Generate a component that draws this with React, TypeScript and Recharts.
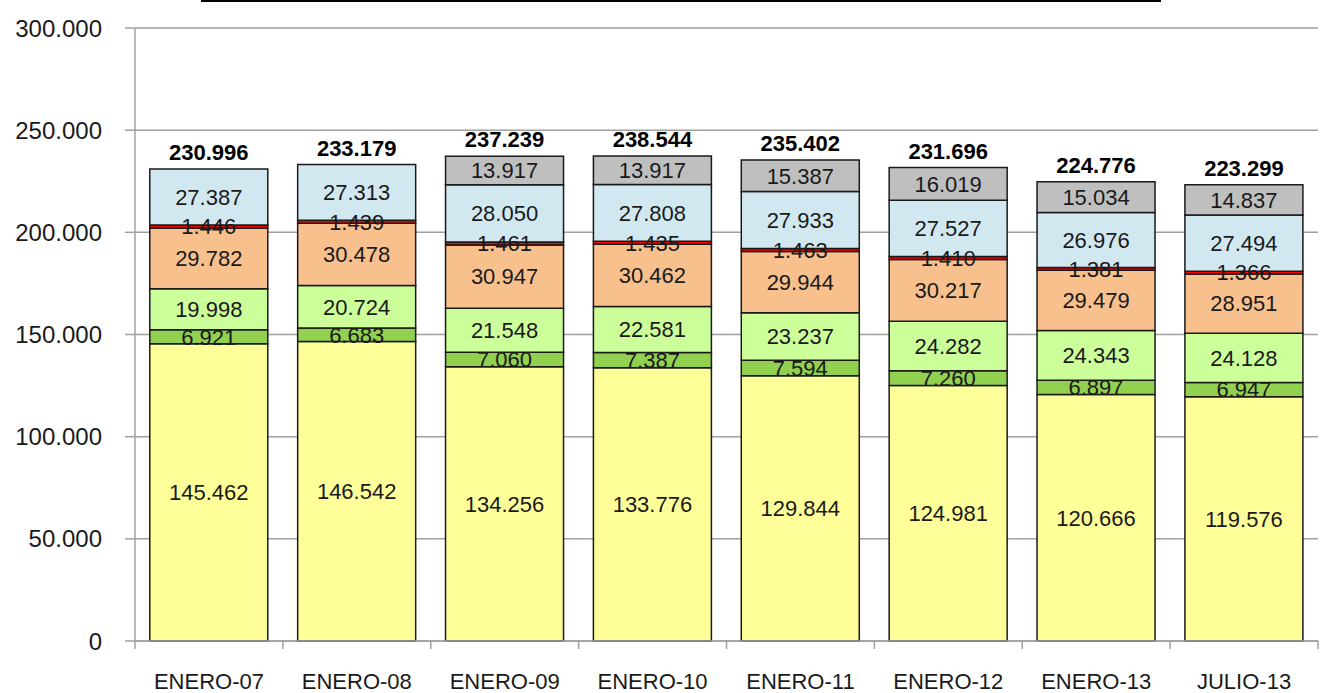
import React from 'react';
import { BarChart, Bar, XAxis, YAxis, CartesianGrid, LabelList } from 'recharts';

const categories = ['ENERO-07', 'ENERO-08', 'ENERO-09', 'ENERO-10', 'ENERO-11', 'ENERO-12', 'ENERO-13', 'JULIO-13'];
const base = [145462, 146542, 134256, 133776, 129844, 124981, 120666, 119576];
const darkGreen = [6921, 6683, 7060, 7387, 7594, 7260, 6897, 6947];
const lightGreen = [19998, 20724, 21548, 22581, 23237, 24282, 24343, 24128];
const orange = [29782, 30478, 30947, 30462, 29944, 30217, 29479, 28951];
const red = [1446, 1439, 1461, 1435, 1463, 1410, 1381, 1366];
const blue = [27387, 27313, 28050, 27808, 27933, 27527, 26976, 27494];
const grey = [0, 0, 13917, 13917, 15387, 16019, 15034, 14837];
const totals = [230996, 233179, 237239, 238544, 235402, 231696, 224776, 223299];
const yTicks = [0, 50000, 100000, 150000, 200000, 250000, 300000];

const data = categories.map((name, i) => ({
  name,
  base: base[i],
  darkGreen: darkGreen[i],
  lightGreen: lightGreen[i],
  orange: orange[i],
  red: red[i],
  blue: blue[i],
  grey: grey[i],
  total: totals[i],
}));

const FONT = '"Liberation Sans", Arial, sans-serif';
const TEXT = '#1a1a1a';
const AXIS = '#a0a0a0';

const fmt = (v: any) => {
  const n = Number(v);
  if (!n) return '';
  return String(n).replace(/\B(?=(\d{3})+(?!\d))/g, '.');
};
const fmtAxis = (v: number) => (v === 0 ? '0' : fmt(v));

const W = 1322;
const H = 693;
const LEFT = 135;
const RIGHT = 4;
const BAND = (W - LEFT - RIGHT) / categories.length;
const X_MARGIN = 32;

function XTick(props: any) {
  const { x, y, payload, index } = props;
  const axisY = y - X_MARGIN;
  return (
    <g>
      <line x1={x - BAND / 2} x2={x - BAND / 2} y1={axisY} y2={axisY + 8} stroke={AXIS} strokeWidth={1.5} />
      {index === categories.length - 1 && (
        <line x1={x + BAND / 2} x2={x + BAND / 2} y1={axisY} y2={axisY + 8} stroke={AXIS} strokeWidth={1.5} />
      )}
      <text x={x} y={y} dy="0.71em" textAnchor="middle" fill={TEXT} fontSize={22} fontFamily={FONT}>
        {payload.value}
      </text>
    </g>
  );
}

// bold total above the stack; on the blue bar only where there is no grey segment
const totalLabel = (onGrey: boolean) => (props: any) => {
  const { x, y, width, index, value } = props;
  if (!onGrey && grey[index] > 0) return null;
  return (
    <text
      key={`t-${index}`}
      x={Number(x) + Number(width) / 2}
      y={Number(y) - 9}
      textAnchor="middle"
      fill="#000"
      fontSize={22}
      fontWeight="bold"
      fontFamily={FONT}
    >
      {fmt(value)}
    </text>
  );
};

const segments = [
  { key: 'base', fill: '#FFFF99' },
  { key: 'darkGreen', fill: '#92D050' },
  { key: 'lightGreen', fill: '#CCFF99' },
  { key: 'orange', fill: '#F8C08C' },
  { key: 'red', fill: '#FF0000' },
];

export default function App() {
  return (
    <div style={{ position: 'absolute', left: 0, top: 0, width: W, height: H, background: '#fff' }}>
      <div style={{ position: 'absolute', left: 201, top: 0, width: 960, height: 2, background: '#000' }} />
      <BarChart
        width={W}
        height={H}
        data={data}
        margin={{ top: 28, right: RIGHT, left: 0, bottom: 0 }}
        barCategoryGap="10%"
      >
        <CartesianGrid vertical={false} stroke={AXIS} strokeWidth={1.5} />
        <XAxis
          dataKey="name"
          height={H - 641}
          axisLine={{ stroke: AXIS, strokeWidth: 1.5 }}
          tickLine={false}
          tickSize={0}
          tickMargin={X_MARGIN}
          tick={<XTick />}
          interval={0}
        />
        <YAxis
          width={LEFT}
          domain={[0, 300000]}
          ticks={yTicks}
          tickFormatter={fmtAxis}
          axisLine={{ stroke: AXIS, strokeWidth: 1.5 }}
          tickLine={{ stroke: AXIS, strokeWidth: 1.5 }}
          tickSize={10}
          tickMargin={23}
          tick={{ fill: TEXT, fontSize: 24, fontFamily: FONT }}
        />
        {segments.map((s) => (
          <Bar key={s.key} dataKey={s.key} stackId="a" fill={s.fill} stroke="#1a1a1a" strokeWidth={1.5} isAnimationActive={false}>
            <LabelList dataKey={s.key} position="center" formatter={fmt} fill={TEXT} fontSize={22} fontFamily={FONT} />
          </Bar>
        ))}
        <Bar dataKey="blue" stackId="a" fill="#D1E8F0" stroke="#1a1a1a" strokeWidth={1.5} isAnimationActive={false}>
          <LabelList dataKey="blue" position="center" formatter={fmt} fill={TEXT} fontSize={22} fontFamily={FONT} />
          <LabelList dataKey="total" content={totalLabel(false)} />
        </Bar>
        <Bar dataKey="grey" stackId="a" fill="#BFBFBF" stroke="#1a1a1a" strokeWidth={1.5} isAnimationActive={false}>
          <LabelList dataKey="grey" position="center" formatter={fmt} fill={TEXT} fontSize={22} fontFamily={FONT} />
          <LabelList dataKey="total" content={totalLabel(true)} />
        </Bar>
      </BarChart>
    </div>
  );
}
